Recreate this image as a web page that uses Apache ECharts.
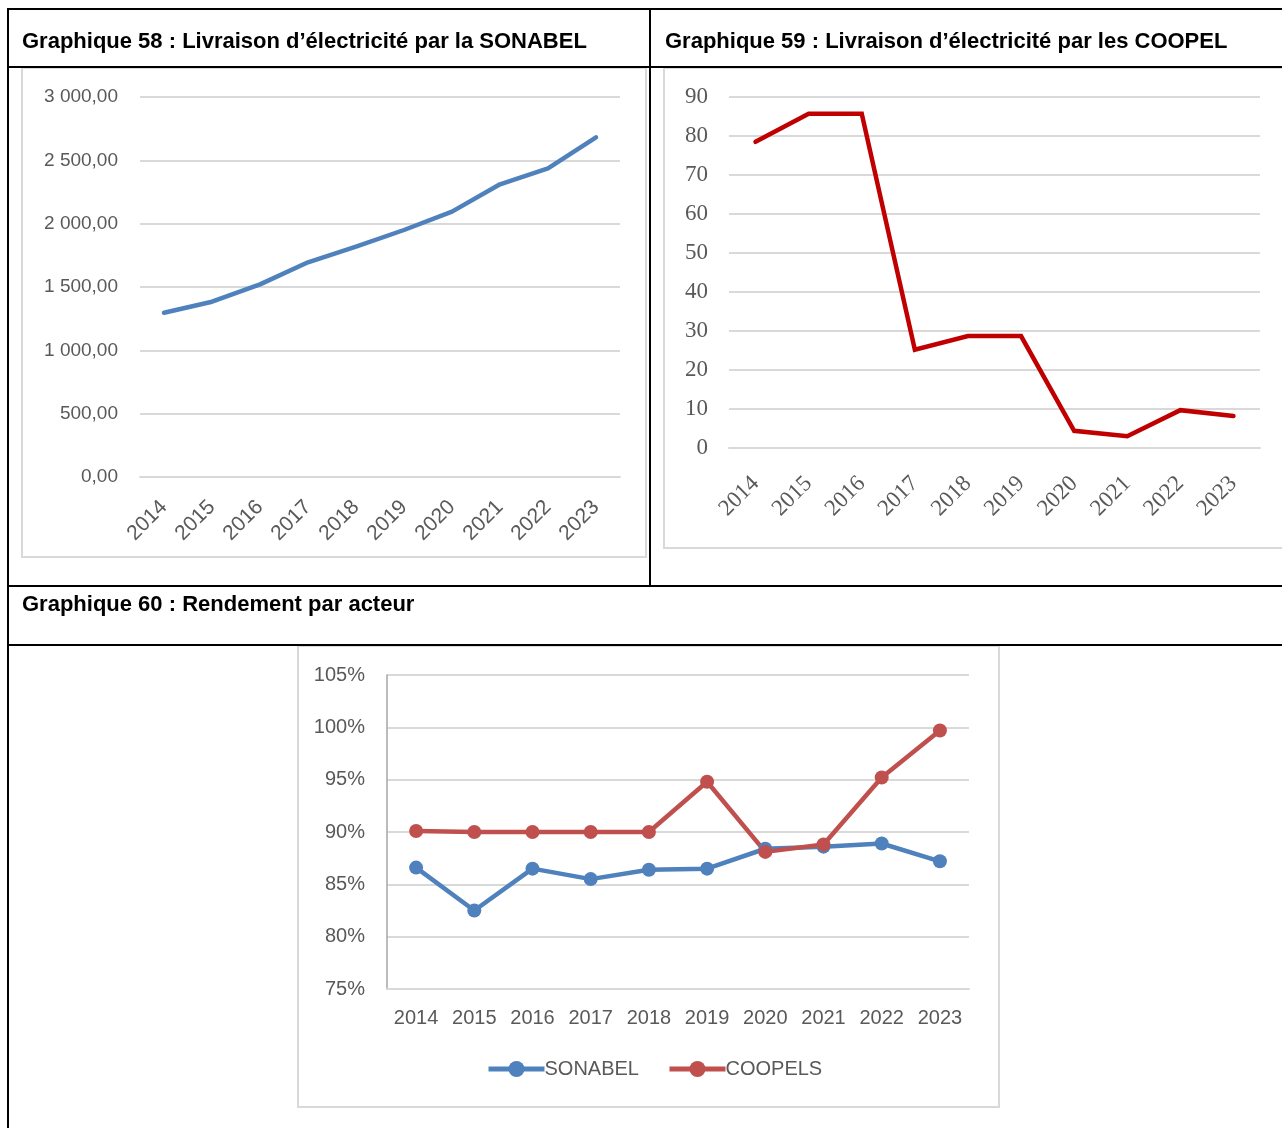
<!DOCTYPE html>
<html>
<head>
    <meta charset="utf-8">
    <title>Graphiques 58-60</title>
    <script src="https://cdn.jsdelivr.net/npm/echarts@6/dist/echarts.min.js"></script>
    <style>
        html, body { margin: 0; padding: 0; background: #fff; }
    </style>
</head>
<body>
<div id="main" style="width: 1282px;height:1128px;"></div>
<script type="text/javascript">
    // données
    var annees = ['2014', '2015', '2016', '2017', '2018', '2019', '2020', '2021', '2022', '2023'];
    var livraisonSonabel = [1297, 1384, 1521, 1695, 1818, 1950, 2095, 2311, 2437, 2682];
    var livraisonCoopel = [78.5, 85.7, 85.7, 25.2, 28.7, 28.7, 4.4, 3.0, 9.7, 8.2];
    var rendementSonabel = [86.6, 82.5, 86.5, 85.5, 86.4, 86.5, 88.4, 88.6, 88.9, 87.2];
    var rendementCoopels = [90.1, 90.0, 90.0, 90.0, 90.0, 94.8, 88.1, 88.8, 95.2, 99.7];

    var sans = "'Liberation Sans', Arial, sans-serif";
    var serif = "'Liberation Serif', 'DejaVu Serif', serif";
    var gris = '#595959';
    var grille = '#d9d9d9';

    function nombreFr(v) {
        var s = v.toFixed(2).split('.');
        var ent = s[0].replace(/\B(?=(\d{3})+(?!\d))/g, ' ');
        return ent + ',' + s[1];
    }

    var myChart = echarts.init(document.getElementById('main'));

    // cadres du tableau
    var traits = [
        [7, 9, 1282, 9], [8, 9, 8, 1128], [650, 9, 650, 586],
        [7, 67, 1282, 67], [7, 586, 1282, 586], [7, 645, 1282, 645]
    ];
    var graphics = traits.map(function (t) {
        return {
            type: 'line', silent: true,
            shape: { x1: t[0], y1: t[1], x2: t[2], y2: t[3] },
            style: { stroke: '#000', lineWidth: 2 }
        };
    });
    // cadres des graphiques
    [[22, 68, 624, 489], [664, 68, 640, 480], [298, 646, 701, 461]].forEach(function (r) {
        graphics.push({
            type: 'rect', silent: true, z: -1,
            shape: { x: r[0], y: r[1], width: r[2], height: r[3] },
            style: { fill: '#fff', stroke: grille, lineWidth: 2 }
        });
    });

    var titreStyle = { fontFamily: sans, fontWeight: 'bold', fontSize: 22, color: '#000' };

    myChart.setOption({
        animation: false,
        graphic: graphics,
        title: [
            { text: 'Graphique 58 : Livraison d’électricité par la SONABEL', left: 22, top: 31, textStyle: titreStyle, padding: 0 },
            { text: 'Graphique 59 : Livraison d’électricité par les COOPEL', left: 665, top: 31, textStyle: titreStyle, padding: 0 },
            { text: 'Graphique 60 : Rendement par acteur', left: 22, top: 594, textStyle: titreStyle, padding: 0 }
        ],
        legend: {
            left: 486, top: 1059, padding: 0,
            itemWidth: 56, itemHeight: 20, itemGap: 28,
            lineStyle: { width: 5 },
            textStyle: { fontFamily: sans, fontSize: 20, color: gris, padding: [0, 0, 0, -5] },
            data: ['SONABEL', 'COOPELS']
        },
        grid: [
            { left: 140, top: 97, width: 480, height: 380 },
            { left: 729, top: 97, width: 531, height: 351 },
            { left: 387, top: 675, width: 582, height: 314 }
        ],
        xAxis: [
            {
                gridIndex: 0, type: 'category', data: annees,
                axisLine: { lineStyle: { color: grille, width: 2 } }, axisTick: { show: false },
                axisLabel: { rotate: 45, margin: 27, fontFamily: sans, fontSize: 21, color: gris, interval: 0 }
            },
            {
                gridIndex: 1, type: 'category', data: annees,
                axisLine: { lineStyle: { color: grille, width: 2 } }, axisTick: { show: false },
                axisLabel: { rotate: 45, margin: 32, fontFamily: serif, fontSize: 23, color: gris, interval: 0 }
            },
            {
                gridIndex: 2, type: 'category', data: annees,
                axisLine: { lineStyle: { color: grille, width: 2 } }, axisTick: { show: false },
                axisLabel: { margin: 19, fontFamily: sans, fontSize: 20, color: gris, interval: 0 }
            }
        ],
        yAxis: [
            {
                gridIndex: 0, type: 'value', min: 0, max: 3000, interval: 500,
                axisLine: { show: false }, axisTick: { show: false },
                splitLine: { lineStyle: { color: grille, width: 2 } },
                axisLabel: { margin: 22, fontFamily: sans, fontSize: 19, color: gris, formatter: nombreFr }
            },
            {
                gridIndex: 1, type: 'value', min: 0, max: 90, interval: 10,
                axisLine: { show: false }, axisTick: { show: false },
                splitLine: { lineStyle: { color: grille, width: 2 } },
                axisLabel: { margin: 21, fontFamily: serif, fontSize: 23, color: gris }
            },
            {
                gridIndex: 2, type: 'value', min: 75, max: 105, interval: 5,
                axisLine: { show: true, lineStyle: { color: '#a6a6a6', width: 1.5 } }, axisTick: { show: false },
                splitLine: { lineStyle: { color: grille, width: 2 } },
                axisLabel: { margin: 22, fontFamily: sans, fontSize: 20, color: gris, formatter: '{value}%' }
            }
        ],
        series: [
            {
                name: 'Livraison SONABEL', type: 'line', xAxisIndex: 0, yAxisIndex: 0,
                data: livraisonSonabel, showSymbol: false, symbol: 'none',
                lineStyle: { color: '#4F81BD', width: 4.5, cap: 'round', join: 'round' }
            },
            {
                name: 'Livraison COOPEL', type: 'line', xAxisIndex: 1, yAxisIndex: 1,
                data: livraisonCoopel, showSymbol: false, symbol: 'none',
                lineStyle: { color: '#C00000', width: 4.5, cap: 'round', join: 'miter' }
            },
            {
                name: 'SONABEL', type: 'line', xAxisIndex: 2, yAxisIndex: 2,
                data: rendementSonabel, symbol: 'circle', symbolSize: 14,
                itemStyle: { color: '#4F81BD' },
                lineStyle: { color: '#4F81BD', width: 4.5 }
            },
            {
                name: 'COOPELS', type: 'line', xAxisIndex: 2, yAxisIndex: 2,
                data: rendementCoopels, symbol: 'circle', symbolSize: 14,
                itemStyle: { color: '#C0504D' },
                lineStyle: { color: '#C0504D', width: 4.5 }
            }
        ]
    });
</script>
</body>
</html>
